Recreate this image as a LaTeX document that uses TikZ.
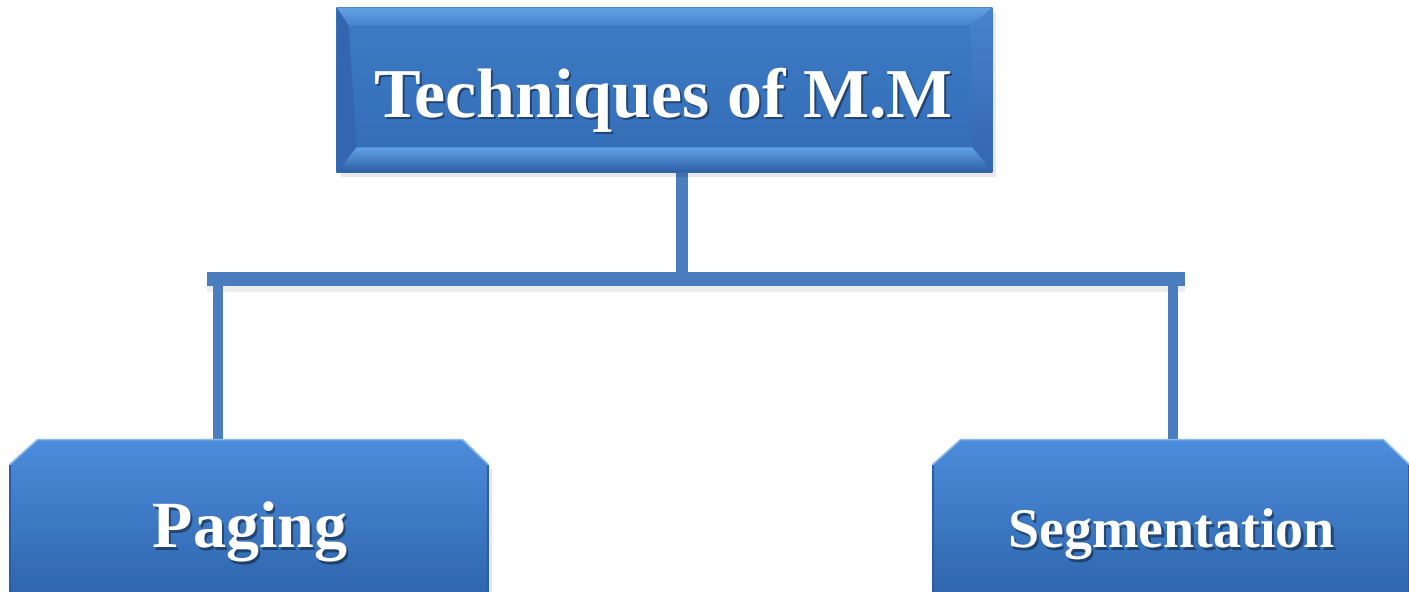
\documentclass[tikz,border=0pt]{standalone}
\usepackage{fontspec}
\setmainfont{Liberation Serif}
\usetikzlibrary{calc}

\definecolor{faceblue}{HTML}{3A75C0}
\definecolor{facetop}{HTML}{3E7BC6}
\definecolor{facebot}{HTML}{336CB5}
\definecolor{bevellight}{HTML}{62A0E4}
\definecolor{bevelmid}{HTML}{4883CD}
\definecolor{bevelside}{HTML}{3366AE}
\definecolor{beveldark}{HTML}{2A5DA4}
\definecolor{boxtop}{HTML}{4C8CDA}
\definecolor{boxbot}{HTML}{2F66AE}
\definecolor{linkblue}{HTML}{4A7DBD}

\tikzset{
  boxarea/.style={draw=none, inner sep=0pt},
  link/.style={draw=linkblue, line cap=butt},
  label/.style={text=white, font=\bfseries, inner sep=0pt, anchor=base},
  labelshade/.style={text=black, opacity=0.4, font=\bfseries, inner sep=0pt, anchor=base},
  shadow/.style={fill=black, opacity=0.09},
}

\begin{document}
\begin{tikzpicture}[x=0.5pt, y=-0.5pt]
\useasboundingbox (0,0) rectangle (1409,592);

% ---------- node areas ----------
\path node (tech)  [boxarea, minimum width=327.5pt, minimum height=82pt] at (664.5,90) {};
\path node (paging)[boxarea, minimum width=239pt, minimum height=76pt] at (249,516) {};
\path node (segm)  [boxarea, minimum width=238pt, minimum height=76pt] at (1171,516) {};

% ---------- connectors ----------
\coordinate (stem)  at (682,279);
\coordinate (barL)  at (207,279);
\coordinate (barR)  at (1185,279);
\coordinate (dropL) at (218,279);
\coordinate (dropR) at (1173,279);

\fill[black, opacity=0.07] (207,286) rectangle (1185,292);
\draw[link, line width=6pt] (stem |- tech.south) -- (stem);
\draw[link, line width=7pt] (barL) -- (barR);
\draw[link, line width=5pt] (dropL) -- (dropL |- paging.north);
\draw[link, line width=5pt] (dropR) -- (dropR |- segm.north);

% ---------- top box with bevelled frame ----------
\fill[shadow] ($(tech.north west)+(4,5)$) rectangle ($(tech.south east)+(4,5)$);
\shade[top color=facetop, bottom color=facebot] (tech.north west) rectangle (tech.south east);
% top bevel
\shade[top color=bevellight, bottom color=bevelmid]
  (tech.north west) -- (tech.north east) -- ($(tech.north east)+(-22,18)$)
  -- ($(tech.north west)+(12,18)$) -- cycle;
% left bevel
\fill[bevelside]
  (tech.north west) -- ($(tech.north west)+(12,18)$) -- ($(tech.south west)+(20,-25)$)
  -- (tech.south west) -- cycle;
% right bevel
\shade[top color=bevelmid, bottom color=bevelside]
  (tech.north east) -- ($(tech.north east)+(-22,18)$) -- ($(tech.south east)+(-20,-25)$)
  -- (tech.south east) -- cycle;
% bottom bevel
\shade[top color=bevellight, middle color=faceblue, bottom color=beveldark]
  ($(tech.south west)+(20,-25)$) -- ($(tech.south east)+(-20,-25)$)
  -- (tech.south east) -- (tech.south west) -- cycle;

% ---------- bottom boxes with chamfered top corners ----------
\foreach \b in {paging, segm}{
  \fill[shadow]
    ($(\b.south west)+(4,0)$) -- ($(\b.north west)+(4,30)$) -- ($(\b.north west)+(32,5)$)
    -- ($(\b.north east)+(-22,5)$) -- ($(\b.north east)+(4,30)$) -- ($(\b.south east)+(4,0)$) -- cycle;
  \shade[top color=boxtop, bottom color=boxbot]
    (\b.south west) -- ($(\b.north west)+(0,25)$) -- ($(\b.north west)+(28,0)$)
    -- ($(\b.north east)+(-26,0)$) -- ($(\b.north east)+(0,25)$) -- (\b.south east) -- cycle;
  \draw[bevellight!75!white, line width=0.8pt]
    ($(\b.north west)+(0,25)$) -- ($(\b.north west)+(28,0)$)
    -- ($(\b.north east)+(-26,0)$) -- ($(\b.north east)+(0,25)$);
  \draw[beveldark, line width=1pt]
    (\b.south west) -- ($(\b.north west)+(0,25)$);
  \draw[beveldark, line width=1pt]
    (\b.south east) -- ($(\b.north east)+(0,25)$);
}

% ---------- labels ----------
\node (techshade) [labelshade, font=\bfseries\fontsize{35}{40}\selectfont] at (665.5,120) {Techniques of M.M};
\node (techlabel) [label, font=\bfseries\fontsize{35}{40}\selectfont] at (663.5,118) {Techniques of M.M};

\node (pagingshade) [labelshade, font=\bfseries\fontsize{33}{38}\selectfont] at (252,551) {Paging};
\node (paginglabel) [label, font=\bfseries\fontsize{33}{38}\selectfont] at (250,548) {Paging};

\node (segmshade) [labelshade, font=\bfseries\fontsize{28}{32}\selectfont] at (1174,551) {Segmentation};
\node (segmlabel) [label, font=\bfseries\fontsize{28}{32}\selectfont] at (1171.5,548) {Segmentation};
\end{tikzpicture}
\end{document}
